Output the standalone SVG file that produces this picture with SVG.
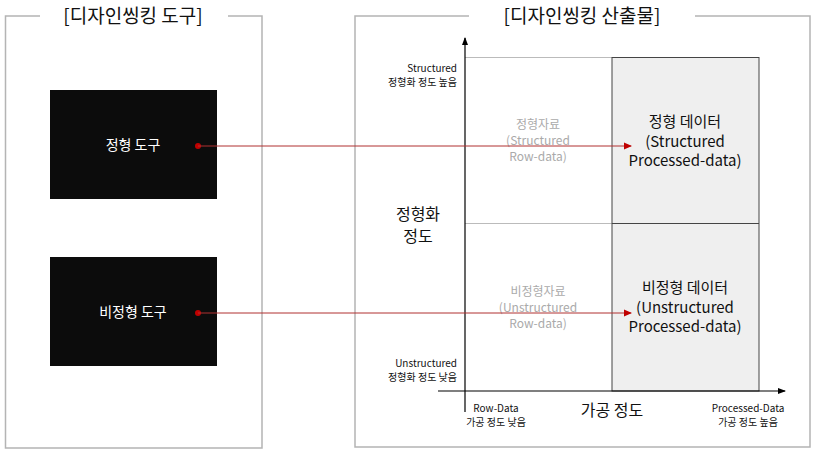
<svg xmlns="http://www.w3.org/2000/svg" width="813" height="452" viewBox="0 0 813 452">
<style>
text{font-family:"Noto Sans CJK KR","Noto Sans",sans-serif;}
.frame{fill:none;stroke:#b4b4b4;stroke-width:1.5;}
.title{font-size:19px;fill:#111;text-anchor:middle;}
.tool{fill:#0c0c0c;}
.toolt{font-size:14px;fill:#fff;text-anchor:middle;}
.small{font-size:10px;fill:#111;}
.raw{font-size:12px;fill:#aaa;text-anchor:middle;}
.proc{font-size:15px;fill:#111;text-anchor:middle;}
.axisl{font-size:16px;fill:#111;text-anchor:middle;}
.conn{stroke:#b03030;stroke-width:1;fill:none;}
</style>
<defs>
<marker id="redArrow" markerWidth="8" markerHeight="8" refX="7" refY="4" orient="auto" markerUnits="userSpaceOnUse">
<path d="M0,0.5 L8,4 L0,7.5 z" fill="#c00000"/>
</marker>
<marker id="blkArrow" markerWidth="8" markerHeight="8" refX="7" refY="4" orient="auto" markerUnits="userSpaceOnUse">
<path d="M0,1 L8,4 L0,7 z" fill="#000"/>
</marker>
</defs>

<g id="panel-tools">
<path class="frame" d="M40,16 H5.5 V448 H262 V16 H228"/>
<text class="title" x="133" y="23">[디자인씽킹 도구]</text>
</g>

<g id="panel-outputs">
<path class="frame" d="M469,16 H355 V447 H810 V16 H695"/>
<text class="title" x="582" y="23">[디자인씽킹 산출물]</text>
</g>

<g id="tool-structured">
<rect class="tool" x="50" y="90" width="167" height="109"/>
<text class="toolt" x="133" y="150">정형 도구</text>
</g>

<g id="tool-unstructured">
<rect class="tool" x="50" y="257" width="167" height="109"/>
<text class="toolt" x="133" y="317">비정형 도구</text>
</g>

<g id="chart">
<line x1="465" y1="57.5" x2="612" y2="57.5" stroke="#bbb" stroke-width="1.2"/>
<line x1="465" y1="223.5" x2="612" y2="223.5" stroke="#bbb" stroke-width="1.2"/>
<rect x="612" y="57.5" width="147" height="333.5" fill="#efefef" stroke="#444" stroke-width="1"/>
<line x1="612" y1="223.5" x2="759" y2="223.5" stroke="#444" stroke-width="1"/>
<line x1="465" y1="412" x2="465" y2="38" stroke="#000" stroke-width="1.2" marker-end="url(#blkArrow)"/>
<line x1="438" y1="391" x2="785" y2="391" stroke="#000" stroke-width="1.2" marker-end="url(#blkArrow)"/>
</g>

<g id="cell-structured-raw">
<text class="raw" x="538" y="129">정형자료</text>
<text class="raw" x="538" y="145">(Structured</text>
<text class="raw" x="538" y="161">Row-data)</text>
</g>

<g id="cell-structured-processed">
<text class="proc" x="685" y="127">정형 데이터</text>
<text class="proc" x="685" y="147">(Structured</text>
<text class="proc" x="685" y="166">Processed-data)</text>
</g>

<g id="cell-unstructured-raw">
<text class="raw" x="538" y="296">비정형자료</text>
<text class="raw" x="538" y="312">(Unstructured</text>
<text class="raw" x="538" y="328">Row-data)</text>
</g>

<g id="cell-unstructured-processed">
<text class="proc" x="685" y="293">비정형 데이터</text>
<text class="proc" x="685" y="313">(Unstructured</text>
<text class="proc" x="685" y="332">Processed-data)</text>
</g>

<g id="axis-labels">
<text class="small" x="457" y="72" text-anchor="end">Structured</text>
<text class="small" x="457" y="86" text-anchor="end">정형화 정도 높음</text>
<text class="small" x="457" y="367" text-anchor="end">Unstructured</text>
<text class="small" x="457" y="381" text-anchor="end">정형화 정도 낮음</text>
<text class="axisl" x="418" y="220">정형화</text>
<text class="axisl" x="418" y="242">정도</text>
<text class="small" x="496" y="412" text-anchor="middle">Row-Data</text>
<text class="small" x="496" y="426" text-anchor="middle">가공 정도 낮음</text>
<text class="axisl" x="612" y="416">가공 정도</text>
<text class="small" x="748" y="412" text-anchor="middle">Processed-Data</text>
<text class="small" x="748" y="426" text-anchor="middle">가공 정도 높음</text>
</g>

<g id="connectors">
<circle cx="198" cy="146" r="3" fill="#c00000"/>
<line class="conn" x1="198" y1="146" x2="631" y2="146" marker-end="url(#redArrow)"/>
<circle cx="198" cy="313" r="3" fill="#c00000"/>
<line class="conn" x1="198" y1="313" x2="631" y2="313" marker-end="url(#redArrow)"/>
</g>
</svg>
